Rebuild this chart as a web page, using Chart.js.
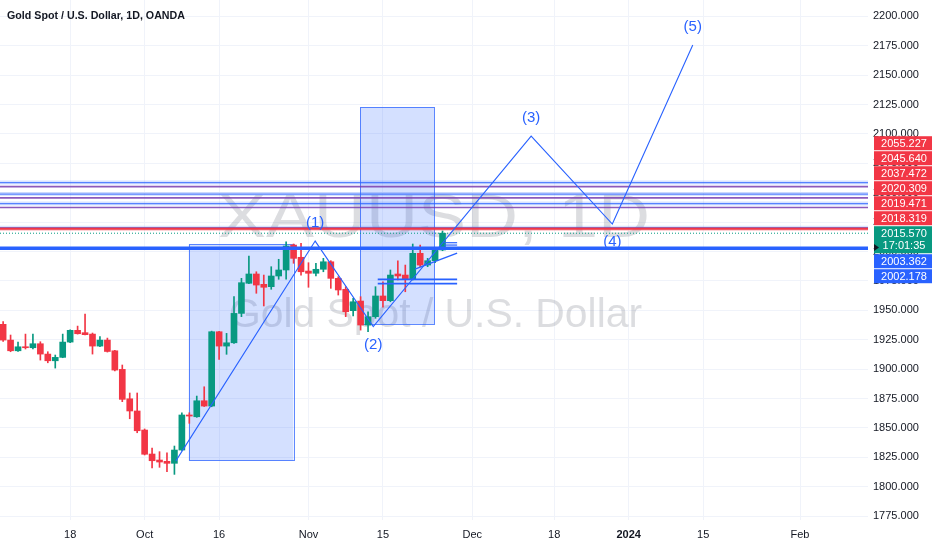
<!DOCTYPE html>
<html><head><meta charset="utf-8">
<script src="https://cdn.jsdelivr.net/npm/chart.js@4.4.0/dist/chart.umd.min.js"></script>
<style>html,body{margin:0;padding:0;background:#fff;}canvas{display:block;}</style>
</head><body>
<canvas id="c" width="932" height="550"></canvas>
<script>
// ---- data (bar index 0 = 2 Oct 2023, trading days) ----
const barIndex = [-19,-18,-17,-16,-15,-14,-13,-12,-11,-10,-9,-8,-7,-6,-5,-4,-3,-2,-1,0,1,2,3,4,5,6,7,8,9,10,11,12,13,14,15,16,17,18,19,20,21,22,23,24,25,26,27,28,29,30,31,32,33,34,35,36,37,38,39,40];
const opens  = [1938.1,1924.7,1915.6,1919.0,1918.2,1921.6,1912.8,1907.1,1910.0,1923.0,1933.0,1931.0,1929.8,1919.6,1924.7,1915.6,1899.8,1874.8,1864.4,1848.2,1827.8,1822.7,1821.6,1819.9,1831.2,1861.0,1859.5,1873.1,1868.6,1931.8,1919.6,1922.4,1947.4,1973.0,1980.9,1972.1,1970.1,1979.2,1984.3,2005.5,1995.1,1983.4,1981.5,1984.9,1991.3,1977.2,1967.9,1949.7,1957.9,1937.5,1944.6,1962.2,1958.2,1980.9,1980.0,1976.4,1998.5,1988.5,1992.2,2001.3];
const highs  = [1940.5,1929.0,1923.0,1929.8,1929.8,1923.3,1914.8,1912.0,1929.8,1933.5,1936.6,1946.9,1930.7,1927.6,1926.4,1916.0,1903.5,1879.7,1879.7,1849.1,1832.9,1829.8,1828.9,1834.6,1862.9,1862.9,1877.1,1885.0,1932.3,1932.2,1930.4,1961.6,1977.2,1996.2,1982.8,1980.0,1987.1,1993.4,2008.3,2006.4,2007.0,1990.5,1990.0,1994.2,1992.2,1978.6,1970.1,1960.2,1961.6,1948.8,1970.1,1974.3,1984.3,1992.2,1988.5,2006.4,2005.5,1994.2,2001.9,2017.5];
const lows   = [1923.5,1914.8,1915.0,1917.1,1917.1,1907.7,1905.4,1900.9,1909.7,1922.5,1929.8,1929.0,1912.8,1919.0,1914.5,1898.4,1872.3,1857.8,1845.9,1827.0,1815.9,1816.5,1812.8,1810.5,1830.8,1853.9,1859.0,1868.2,1868.0,1908.3,1912.6,1921.8,1944.6,1972.6,1964.5,1953.7,1967.9,1976.4,1976.4,1990.0,1980.0,1969.6,1979.2,1982.8,1968.7,1963.0,1944.6,1945.2,1933.2,1931.8,1943.2,1952.6,1957.3,1975.8,1965.8,1975.8,1987.1,1987.1,1990.5,2000.7];
const closes = [1924.7,1915.6,1919.0,1918.2,1921.6,1912.8,1907.1,1910.0,1923.0,1933.0,1930.1,1929.3,1919.6,1924.7,1915.0,1899.2,1874.3,1864.4,1847.6,1827.6,1822.1,1821.0,1819.9,1831.2,1861.0,1860.1,1873.1,1868.6,1931.8,1919.6,1922.4,1947.4,1973.5,1980.9,1971.5,1969.6,1979.2,1984.3,2004.7,1994.2,1982.8,1981.5,1984.9,1991.3,1977.2,1967.3,1948.8,1957.3,1937.5,1944.6,1962.2,1958.2,1980.0,1979.2,1976.4,1998.5,1988.5,1992.2,2001.3,2015.57];

// time axis ticks
const xTickIdx    = [-10, 0, 10, 22, 32, 44, 55, 65, 75, 88];
const xTickLabels = ['18','Oct','16','Nov','15','Dec','18','2024','15','Feb'];
// price axis ticks
const yTicks = [1775,1800,1825,1850,1875,1900,1925,1950,1975,2000,2025,2050,2075,2100,2125,2150,2175,2200];

// horizontal levels
const blueLevels   = [2058.6, 2048.9, 2040.8, 2020.309];
const purpleLevels = [2055.227, 2045.640, 2037.472];
const redLevel = 2019.471, pinkLevel = 2018.319;
const lastPrice = 2015.570, lastTimer = '17:01:35';
const thickBlueLevels = [2003.362, 2002.178];

// drawings
const rectX0 = [5.92, 28.92], rectX1 = [19.97, 38.9];
const rectLo = [1822.1, 1938.4], rectHi = [2006.1, 2122.9];
const waveX = [4.2, 22.9, 30.7, 51.9, 62.8, 73.6];
const waveY = [1822.0, 2008.9, 1936.1, 2098.2, 2023.4, 2175.6];
const waveLabels = ['(1)','(2)','(3)','(4)','(5)'];
const waveLabelSide = [-1, 1, -1, 1, -1];
const chanX = [36.3, 41.96], chanY = [1985.1, 1998.7];
const shortLevelsA = [1976.4, 1972.7], shortA = [31.3, 41.96];
const shortLevelsB = [2007.5, 2005.5], shortB = [40.2, 41.96];

// axis labels boxes
const boxPrices = [2055.227, 2045.640, 2037.472, 2020.309, 2019.471, 2018.319, 2003.362, 2002.178];
const boxKinds  = ['r','r','r','r','r','r','b','b'];

const X_MIN = -19.42, X_MAX = 97.13, Y_MIN = 1771.7, Y_MAX = 2213.9;
const UP = '#089981', DOWN = '#f23645', BLUE = '#2962ff';

const candleColors = barIndex.map((x,i)=> closes[i] >= opens[i] ? UP : DOWN);
const bodyData = barIndex.map((x,i)=>({x, y:[opens[i], closes[i]]}));
const wickData = barIndex.map((x,i)=>({x, y:[lows[i], highs[i]]}));

function hline(v, color, width, dash, x0, x1, order){
  return {type:'line', data:[{x:x0 ?? X_MIN, y:v},{x:x1 ?? X_MAX, y:v}], borderColor:color,
    borderWidth:width, borderDash:dash||[], pointRadius:0, fill:false, order: order ?? 1, tension:0, clip:0};
}

const datasets = [];
datasets.push({type:'bar', data:wickData, backgroundColor:candleColors, borderWidth:0, barThickness:1, grouped:false, order:6, minBarLength:1});
datasets.push({type:'bar', data:bodyData, backgroundColor:candleColors, borderWidth:0, barThickness:6, grouped:false, order:5, minBarLength:1});
blueLevels.forEach(v=>{ datasets.push(hline(v,'rgba(41,98,255,0.18)',4,null,null,null,3)); datasets.push(hline(v,'rgba(41,98,255,0.75)',1.2,null,null,null,2)); });
purpleLevels.forEach(v=> datasets.push(hline(v,'rgba(120,60,175,0.85)',1.6)));
datasets.push(hline(pinkLevel,'rgba(242,54,69,0.45)',1.2));
datasets.push(hline(redLevel,DOWN,2.2));
datasets.push(hline(lastPrice,UP,1,[1,2]));
thickBlueLevels.forEach(v=> datasets.push(hline(v,BLUE,2)));
shortLevelsA.forEach(v=> datasets.push(hline(v,BLUE,1.8,null,shortA[0],shortA[1],0)));
shortLevelsB.forEach(v=> datasets.push(hline(v,BLUE,1.2,null,shortB[0],shortB[1],0)));
datasets.push({type:'line', data:waveX.map((x,i)=>({x, y:waveY[i]})), borderColor:BLUE, borderWidth:1.1, pointRadius:0, fill:false, order:0, tension:0});
datasets.push({type:'line', data:chanX.map((x,i)=>({x, y:chanY[i]})), borderColor:BLUE, borderWidth:1.4, pointRadius:0, fill:false, order:0, tension:0});

function drawFitText(ctx, text, cx, baseline, targetW, align){
  const w = ctx.measureText(text).width;
  ctx.save();
  ctx.translate(cx, baseline);
  ctx.scale(targetW / w, 1);
  ctx.textAlign = align || 'center';
  ctx.fillText(text, 0, 0);
  ctx.restore();
}

const bgPlugin = {
  id:'bg',
  beforeDraw(chart){
    const ctx = chart.ctx; ctx.save(); ctx.fillStyle='#fff'; ctx.fillRect(0,0,chart.width,chart.height); ctx.restore();
  },
  beforeDatasetsDraw(chart){
    const ctx = chart.ctx, xs = chart.scales.x, ys = chart.scales.y, a = chart.chartArea;
    ctx.save();
    ctx.beginPath(); ctx.rect(a.left, a.top, a.right-a.left, a.bottom-a.top); ctx.clip();
    ctx.fillStyle = 'rgba(120,123,134,0.26)';
    ctx.textBaseline = 'alphabetic';
    ctx.font = '62px "Liberation Sans", Arial, sans-serif';
    drawFitText(ctx, 'XAUUSD, 1D', 434, 237, 432);
    ctx.font = '41px "Liberation Sans", Arial, sans-serif';
    drawFitText(ctx, 'Gold Spot / U.S. Dollar', 435.5, 327, 413);
    for (let i=0;i<rectX0.length;i++){
      const x0 = xs.getPixelForValue(rectX0[i]), x1 = xs.getPixelForValue(rectX1[i]);
      const y0 = ys.getPixelForValue(rectHi[i]), y1 = ys.getPixelForValue(rectLo[i]);
      ctx.fillStyle = 'rgba(41,98,255,0.2)';
      ctx.fillRect(x0, y0, x1-x0, y1-y0);
      ctx.strokeStyle = 'rgba(41,98,255,0.75)'; ctx.lineWidth = 1;
      ctx.strokeRect(Math.round(x0)+0.5, Math.round(y0)+0.5, Math.round(x1-x0), Math.round(y1-y0));
    }
    ctx.restore();
  },
  afterDatasetsDraw(chart){
    const ctx = chart.ctx, xs = chart.scales.x, ys = chart.scales.y;
    ctx.save();
    ctx.fillStyle = BLUE;
    ctx.font = '15px "Liberation Sans", Arial, sans-serif';
    ctx.textAlign = 'center'; ctx.textBaseline = 'middle';
    waveLabels.forEach((t,i)=>{
      const px = xs.getPixelForValue(waveX[i+1]), py = ys.getPixelForValue(waveY[i+1]);
      ctx.fillText(t, px, py + waveLabelSide[i]*18);
    });
    ctx.restore();
  },
  afterDraw(chart){
    const ctx = chart.ctx, ys = chart.scales.y, a = chart.chartArea;
    // title
    ctx.save();
    ctx.fillStyle = '#131722';
    ctx.font = 'bold 11px "Liberation Sans", Arial, sans-serif';
    ctx.textBaseline = 'alphabetic';
    const tw = ctx.measureText('Gold Spot / U.S. Dollar, 1D, OANDA').width;
    ctx.translate(7, 19); ctx.scale(178/tw, 1); ctx.textAlign='left';
    ctx.fillText('Gold Spot / U.S. Dollar, 1D, OANDA', 0, 0);
    ctx.restore();
    // price boxes
    const H = 14, left = a.right + 6, right = chart.width, cx = (left+right)/2 + 1;
    const curY = ys.getPixelForValue(lastPrice);
    const curTop = curY - 7, curBot = curTop + 27;
    const items = boxPrices.map((p,i)=>({p, k:boxKinds[i], y:ys.getPixelForValue(p)}));
    const above = items.filter(o=>o.p > lastPrice).sort((u,v)=>u.p-v.p);
    const below = items.filter(o=>o.p < lastPrice).sort((u,v)=>v.p-u.p);
    let lim = curTop;
    above.forEach(o=>{ const bot = Math.min(o.y + H/2, lim - 1); o.top = bot - H; lim = o.top; });
    lim = curBot;
    below.forEach(o=>{ const top = Math.max(o.y - H/2, lim + 1); o.top = top; lim = top + H; });
    ctx.save();
    ctx.font = '11px "Liberation Sans", Arial, sans-serif';
    ctx.textAlign = 'center'; ctx.textBaseline = 'middle';
    [...above, ...below].forEach(o=>{
      ctx.fillStyle = o.k === 'r' ? DOWN : BLUE;
      ctx.fillRect(left, o.top, right-left, H);
      ctx.fillStyle = '#fff';
      ctx.fillText(o.p.toFixed(3), cx, o.top + H/2 + 0.5);
    });
    ctx.fillStyle = UP;
    ctx.fillRect(left, curTop, right-left, 27);
    ctx.fillStyle = '#fff';
    ctx.fillText(lastPrice.toFixed(3), cx, curTop + 7.5);
    ctx.fillText(lastTimer, cx, curTop + 20);
    // marker
    const my = ys.getPixelForValue(thickBlueLevels[0]);
    ctx.fillStyle = '#131722';
    ctx.beginPath(); ctx.moveTo(left, my-3.5); ctx.lineTo(left+5, my); ctx.lineTo(left, my+3.5); ctx.closePath(); ctx.fill();
    ctx.restore();
  }
};

new Chart(document.getElementById('c'), {
  type:'bar',
  data:{ datasets },
  options:{
    responsive:false, animation:false, devicePixelRatio:1,
    layout:{ padding:0 },
    plugins:{ legend:{display:false}, tooltip:{enabled:false} },
    scales:{
      x:{ type:'linear', min:X_MIN, max:X_MAX, offset:false,
        afterBuildTicks(s){ s.ticks = xTickIdx.map(v=>({value:v})); },
        afterFit(s){ s.height = 30; s.paddingLeft = 0; s.paddingRight = 0; s.paddingTop = 0; s.paddingBottom = 0; },
        grid:{ color:'#f0f3fa', drawTicks:false, offset:false },
        border:{ display:false },
        ticks:{ padding:8, maxRotation:0, autoSkip:false, color:'#131722',
          font:(c)=> ({family:'"Liberation Sans", Arial, sans-serif', size:11, weight: (c.tick && c.tick.value===65) ? 'bold' : 'normal'}),
          callback:(v)=> { const i = xTickIdx.indexOf(v); return i>=0 ? xTickLabels[i] : ''; } }
      },
      y:{ type:'linear', position:'right', min:Y_MIN, max:Y_MAX,
        afterBuildTicks(s){ s.ticks = yTicks.map(v=>({value:v})); },
        afterFit(s){ s.width = 64; s.paddingTop = 0; s.paddingBottom = 0; s.paddingLeft = 0; s.paddingRight = 0; },
        grid:{ color:'#f0f3fa', drawTicks:false },
        border:{ display:false },
        ticks:{ padding:5, color:'#131722', font:{family:'"Liberation Sans", Arial, sans-serif', size:11},
          callback:(v)=> Number(v).toFixed(3) }
      }
    }
  },
  plugins:[bgPlugin]
});
</script>
</body></html>
